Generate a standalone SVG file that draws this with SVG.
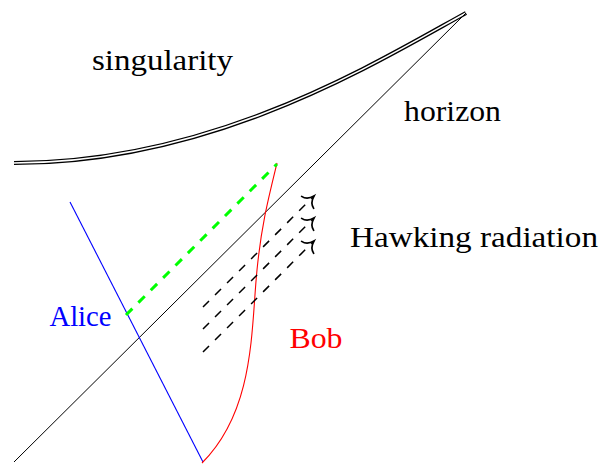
<svg xmlns="http://www.w3.org/2000/svg" width="602" height="464" viewBox="0 0 602 464">
<style>
text{font-family:"Liberation Serif","DejaVu Serif","Times New Roman",serif;font-size:29px}
.thin{fill:none;stroke:#000;stroke-width:1}
.hawk{fill:none;stroke:#000;stroke-width:1.5;stroke-dasharray:8.5,8.5}
</style>
<defs>
<marker id="to" markerUnits="userSpaceOnUse" orient="auto" refX="0" refY="0" markerWidth="24" markerHeight="24" overflow="visible">
<path d="M-9,-8.5 C-8,-3.5 -3.5,-1 0,0 C-3.5,1 -8,3.5 -9,8.5" fill="none" stroke="#000" stroke-width="1.7" stroke-linecap="round"/>
</marker>
</defs>
<rect width="602" height="464" fill="#fff"/>
<g id="singularity">
<path d="M14,163 C214,163 376,62.5 466,13" fill="none" stroke="#000" stroke-width="4.2"/>
<path d="M14,163 C214,163 376,62.5 466,13" fill="none" stroke="#fff" stroke-width="1.6"/>
<text x="92" y="70" textLength="141" lengthAdjust="spacingAndGlyphs">singularity</text>
</g>
<g id="horizon">
<line class="thin" x1="14" y1="462" x2="466" y2="13"/>
<text x="404" y="121" textLength="97" lengthAdjust="spacingAndGlyphs">horizon</text>
</g>
<g id="alice">
<line x1="70" y1="202" x2="203" y2="462" stroke="#0000ff" stroke-width="1.1"/>
<text x="49.5" y="326" textLength="62" lengthAdjust="spacingAndGlyphs" fill="#0000ff">Alice</text>
</g>
<g id="bob">
<path d="M277,163 C268,200 261.5,225 257,270 C251,330 255,410 202,463" fill="none" stroke="#ff0000" stroke-width="1.1"/>
<text x="289.5" y="348" textLength="53" lengthAdjust="spacingAndGlyphs" fill="#ff0000">Bob</text>
</g>
<g id="hawking">
<text x="350" y="247" textLength="248" lengthAdjust="spacingAndGlyphs">Hawking radiation</text>
</g>
<g id="connectors">
<line x1="126" y1="315" x2="277" y2="164" stroke="#00ff00" stroke-width="3" stroke-dasharray="9,8.5"/>
<line class="hawk" x1="203" y1="307" x2="314" y2="196" marker-end="url(#to)"/>
<line class="hawk" x1="203" y1="329" x2="314" y2="218" marker-end="url(#to)"/>
<line class="hawk" x1="203" y1="352" x2="314" y2="241" marker-end="url(#to)"/>
</g>
</svg>
